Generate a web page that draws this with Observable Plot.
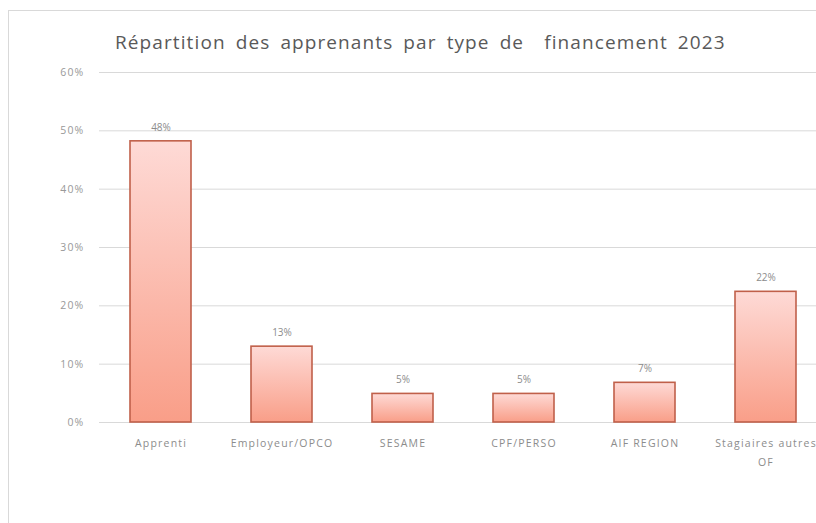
<!DOCTYPE html>
<html><head><meta charset="utf-8">
<script src="https://cdn.jsdelivr.net/npm/d3@7"></script>
<script src="https://cdn.jsdelivr.net/npm/@observablehq/plot@0.6"></script>
<style>
html,body{margin:0;padding:0;background:#fff;width:816px;height:523px;overflow:hidden;}
#wrap{position:relative;width:816px;height:523px;overflow:hidden;}
#frame{position:absolute;left:8px;top:10px;width:900px;height:600px;border-left:1px solid #d9d9d9;border-top:1px solid #d9d9d9;}
#title{position:absolute;left:115px;top:29px;font-family:"Open Sans",sans-serif;font-size:19px;color:#595959;white-space:pre;letter-spacing:1.1px;word-spacing:4px;}
#chart{position:absolute;left:0;top:0;width:960px;}
#chart svg{max-width:none !important;}
#chart svg g[aria-label="x-axis tick label"] text,
#chart svg g[aria-label="y-axis tick label"] text{letter-spacing:1.2px;}
</style></head>
<body><div id="wrap"><div id="frame"></div><div id="chart"></div><div id="title">Répartition des apprenants par type de  financement 2023</div></div>
<script>
const categories = ["Apprenti","Employeur/OPCO","SESAME","CPF/PERSO","AIF REGION","Stagiaires autres\nOF"];
const shares = [0.482, 0.130, 0.049, 0.049, 0.068, 0.224];
const yTicks = [0, 0.1, 0.2, 0.3, 0.4, 0.5, 0.6];

const data = categories.map((c, i) => ({cat: c, v: shares[i]}));
const font = "'Open Sans', sans-serif";

const chart = Plot.plot({
  width: 960, height: 523,
  marginLeft: 99, marginRight: 133, marginTop: 72, marginBottom: 101,
  style: {fontFamily: font, background: "transparent", maxWidth: "none"},
  x: {domain: categories, paddingInner: 0.5, paddingOuter: 0.25, align: 0.5, label: null},
  y: {domain: [0, 0.6], label: null},
  marks: [
    Plot.gridY(yTicks, {stroke: "#d9d9d9", strokeOpacity: 1, strokeWidth: 1}),
    Plot.axisY(yTicks, {tickFormat: d3.format(".0%"), tickSize: 0, tickPadding: 15, fill: "#999999", fontSize: 10.5, label: null}),
    Plot.axisX({tickSize: 0, tickPadding: 11, fill: "#8c8c8c", fontSize: 10.5, lineHeight: 1.8, label: null}),
    Plot.barY(data, {x: "cat", y: "v", fill: "url(#barGrad)", stroke: "#c0604a", strokeWidth: 1.6}),
    Plot.text(data, {x: "cat", y: "v", text: d => d3.format(".0%")(d.v), dy: -14, fill: "#8c8c8c", fontSize: 10})
  ]
});

const ns = "http://www.w3.org/2000/svg";
const defs = document.createElementNS(ns, "defs");
const lg = document.createElementNS(ns, "linearGradient");
lg.setAttribute("id", "barGrad");
lg.setAttribute("x1", "0"); lg.setAttribute("y1", "0");
lg.setAttribute("x2", "0"); lg.setAttribute("y2", "1");
[["0%", "#fedad6"], ["100%", "#f99e88"]].forEach(([o, c]) => {
  const s = document.createElementNS(ns, "stop");
  s.setAttribute("offset", o); s.setAttribute("stop-color", c);
  lg.appendChild(s);
});
defs.appendChild(lg);
chart.insertBefore(defs, chart.firstChild);
document.getElementById("chart").appendChild(chart);
</script>
</body></html>
